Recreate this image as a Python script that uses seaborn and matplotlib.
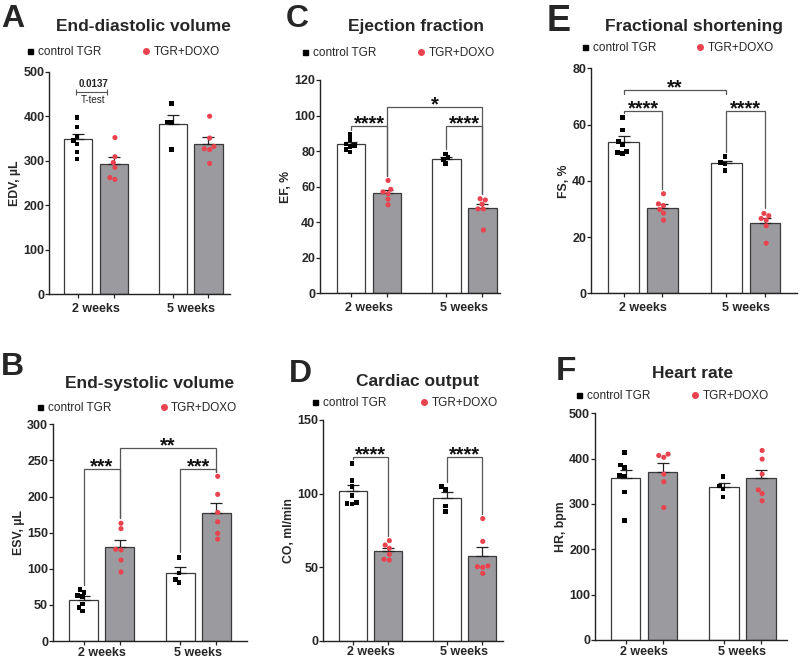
import numpy as np
import pandas as pd
import matplotlib
matplotlib.use("Agg")
import matplotlib.pyplot as plt
import seaborn as sns
from matplotlib.lines import Line2D

sns.set_theme(style="ticks")
plt.rcParams['font.family'] = ['Liberation Sans', 'DejaVu Sans']

# ---------------- data ----------------
timepoints = ["2 weeks", "5 weeks"]
groups = ["control TGR", "TGR+DOXO"]

edv_ctrl_2w = [397, 376, 355, 345, 338, 320, 304]
edv_doxo_2w = [352, 309, 296, 285, 262, 258]
edv_ctrl_5w = [429, 387, 386, 325]
edv_doxo_5w = [400, 351, 332, 327, 325, 294]

esv_ctrl_2w = [71.5, 67.4, 62.8, 61.4, 51.2, 46.2, 41.5]
esv_doxo_2w = [163, 155.5, 127, 126, 112, 95.5]
esv_ctrl_5w = [116, 94, 85, 81]
esv_doxo_5w = [228, 203, 178, 165, 149, 141]

ef_ctrl_2w = [89.5, 86.5, 84, 83, 82.5, 81, 79.5]
ef_doxo_2w = [63.5, 58.5, 57, 56, 53, 49.8]
ef_ctrl_5w = [78.4, 76.3, 75.4, 73]
ef_doxo_5w = [53.2, 52.5, 50.2, 47.4, 47.5, 35.6]

co_ctrl_2w = [120.5, 109, 104.7, 98.6, 94, 93.4, 93]
co_doxo_2w = [68, 65, 62.8, 58.7, 55.3, 54.8]
co_ctrl_5w = [104.7, 102.9, 91.5, 87.7]
co_doxo_5w = [83, 67.5, 50.8, 50.3, 49.9, 45.8]

fs_ctrl_2w = [62.5, 58, 54, 53, 50.5, 50, 49.8]
fs_doxo_2w = [35.4, 31.8, 31.2, 29.8, 28.5, 26]
fs_ctrl_5w = [48.6, 46.5, 46, 43.6]
fs_doxo_5w = [28.4, 27.6, 26.6, 26, 24, 17.8]

hr_ctrl_2w = [414, 386, 381, 363, 362, 326, 263]
hr_doxo_2w = [410, 407, 403, 366, 349, 292]
hr_ctrl_5w = [360, 340, 333, 315]
hr_doxo_5w = [418, 399, 366, 331, 323, 307]

titles = ["End-diastolic volume", "End-systolic volume", "Ejection fraction",
          "Cardiac output", "Fractional shortening", "Heart rate"]
ylabels = ["EDV, µL", "ESV, µL", "EF, %", "CO, ml/min", "FS, %", "HR, bpm"]
letters = ["A", "B", "C", "D", "E", "F"]

# significance annotations: (time_a, group_a, time_b, group_b, level, label, short_legs)
sig_B = [(0, 0, 0, 1, 238, "***", None), (0, 1, 1, 1, 267, "**", None), (1, 0, 1, 1, 238, "***", None)]
sig_C = [(0, 0, 0, 1, 94, "****", None), (0, 1, 1, 1, 105, "*", None), (1, 0, 1, 1, 94, "****", None)]
sig_D = [(0, 0, 0, 1, 125, "****", None), (1, 0, 1, 1, 125, "****", None)]
sig_E = [(0, 0, 1, 0, 72.3, "**", True), (0, 0, 0, 1, 64.8, "****", None), (1, 0, 1, 1, 64.8, "****", None)]

RED = "#e8434f"
GRAY = "#9b9b9f"
LINE = "#555555"


def make_df(c2, d2, c5, d5):
    rows = []
    for t, g, vals in [(timepoints[0], groups[0], c2), (timepoints[0], groups[1], d2),
                       (timepoints[1], groups[0], c5), (timepoints[1], groups[1], d5)]:
        for v in vals:
            rows.append({"time": t, "group": g, "value": v})
    return pd.DataFrame(rows)


panels = [
    dict(df=make_df(edv_ctrl_2w, edv_doxo_2w, edv_ctrl_5w, edv_doxo_5w), ymax=500, step=100,
         rect=(49.3, 71.7, 230, 294.3), xlim=(-0.493, 1.415), sig=[], xpad=6.5,
         title_xy=(143, 26.7), leg_xy=(27, 52), colsp=3.6, letter_xy=(1, 27), letter_fs=23),
    dict(df=make_df(esv_ctrl_2w, esv_doxo_2w, esv_ctrl_5w, esv_doxo_5w), ymax=300, step=50,
         rect=(53, 424.3, 246.7, 641), xlim=(-0.503, 1.5), sig=sig_B, xpad=4.0,
         title_xy=(150, 383.3), leg_xy=(37, 407.7), colsp=4.2, letter_xy=(1, 375), letter_fs=23),
    dict(df=make_df(ef_ctrl_2w, ef_doxo_2w, ef_ctrl_5w, ef_doxo_5w), ymax=120, step=20,
         rect=(320, 80, 500, 293.3), xlim=(-0.514, 1.374), sig=sig_C, xpad=6.5,
         title_xy=(416, 26.7), leg_xy=(302, 53.3), colsp=3.6, letter_xy=(286, 27), letter_fs=23),
    dict(df=make_df(co_ctrl_2w, co_doxo_2w, co_ctrl_5w, co_doxo_5w), ymax=150, step=50,
         rect=(323.3, 420, 503.3, 640.7), xlim=(-0.507, 1.42), sig=sig_D, xpad=4.0,
         title_xy=(417, 381.7), leg_xy=(312, 403.3), colsp=2.95, letter_xy=(289, 382), letter_fs=23),
    dict(df=make_df(fs_ctrl_2w, fs_doxo_2w, fs_ctrl_5w, fs_doxo_5w), ymax=80, step=20,
         rect=(591, 68.3, 797, 293.3), xlim=(-0.506, 1.5), sig=sig_E, xpad=6.5,
         title_xy=(694, 26.7), leg_xy=(582, 48.3), colsp=3.45, letter_xy=(547, 31), letter_fs=26),
    dict(df=make_df(hr_ctrl_2w, hr_doxo_2w, hr_ctrl_5w, hr_doxo_5w), ymax=500, step=100,
         rect=(595, 413.3, 786.7, 640), xlim=(-0.5, 1.45), sig=[], xpad=4.0,
         title_xy=(693, 373.3), leg_xy=(576, 396), colsp=3.55, letter_xy=(556, 380), letter_fs=24),
]

W, H = 800, 660
fig = plt.figure(figsize=(8, 6.6), dpi=100)
fig.patch.set_facecolor("white")

for i, p in enumerate(panels):
    x0, y0, x1, y1 = p["rect"]
    ax = fig.add_axes([x0 / W, 1 - y1 / H, (x1 - x0) / W, (y1 - y0) / H])
    df = p["df"]
    sns.barplot(data=df, x="time", y="value", hue="group", order=timepoints, hue_order=groups,
                palette={groups[0]: "white", groups[1]: GRAY}, errorbar=None,
                width=0.75, gap=0.2, edgecolor="#3a3a3a", linewidth=0.9, ax=ax,
                legend=False, zorder=1)
    # bar centres from the library's patches
    centers = {}
    for patch in ax.patches:
        cx = patch.get_x() + patch.get_width() / 2
        t = int(round(cx))
        g = 0 if cx < t else 1
        centers[(t, g)] = cx
    pts = {}
    for t in range(2):
        for g in range(2):
            vals = df[(df.time == timepoints[t]) & (df.group == groups[g])]["value"].to_numpy()
            pts[(t, g)] = vals
            mean = vals.mean()
            sem = vals.std(ddof=1) / np.sqrt(len(vals))
            ax.errorbar([centers[(t, g)]], [mean], yerr=[[0], [sem]], fmt="none",
                        ecolor="#222222", elinewidth=0.9, capsize=4.5, capthick=0.9, zorder=2)
    for g, marker, color, sz in [(groups[0], "s", "black", 3.3), (groups[1], "o", RED, 3.7)]:
        sns.swarmplot(data=df[df.group == g], x="time", y="value", hue="group",
                      order=timepoints, hue_order=groups, dodge=True, marker=marker,
                      palette={groups[0]: color, groups[1]: color}, size=sz,
                      linewidth=0, ax=ax, legend=False, zorder=3)

    ymax = p["ymax"]
    pad = 0.022 * ymax
    for (ta, ga, tb, gb, lvl, lab, short) in p["sig"]:
        xa, xb = centers[(ta, ga)], centers[(tb, gb)]
        if short:
            ya = yb = lvl - 0.02 * ymax
        else:
            ya = pts[(ta, ga)].max() + pad
            yb = pts[(tb, gb)].max() + pad
        ax.plot([xa, xa, xb, xb], [ya, lvl, lvl, yb], color=LINE, lw=0.9, zorder=4,
                solid_joinstyle="miter")
        ax.annotate(lab, ((xa + xb) / 2, lvl), xytext=(0, 1.5), textcoords="offset points",
                    ha="center", va="center", fontsize=14.5, fontweight="bold", color="#111111")

    if i == 0:
        # small T-test range mark
        ax.errorbar([-0.045], [453.6], xerr=[[0.165], [0.165]], fmt="none", ecolor=LINE,
                    elinewidth=0.8, capsize=2.5, capthick=0.8)
        ax.text(-0.03, 462, "0.0137", ha="center", va="bottom", fontsize=7,
                fontweight="bold", color="#222222")
        ax.text(-0.03, 447, "T-test", ha="center", va="top", fontsize=7, color="#222222")

    ax.set_xlim(*p["xlim"])
    ax.set_ylim(0, ymax)
    ax.set_yticks(np.arange(0, ymax + 0.1, p["step"]))
    ax.set_xticks([0, 1])
    ax.set_xticklabels(timepoints, fontsize=9, fontweight="bold")
    ax.set_xticks(sorted(centers.values()), minor=True)
    ax.tick_params(axis="x", which="major", length=0, pad=p["xpad"])
    ax.tick_params(axis="x", which="minor", length=3.0, width=0.9, color="#222222")
    ax.tick_params(axis="y", which="major", length=2.7, width=0.9, color="#222222",
                   labelsize=9, pad=0.8)
    for lbl in ax.get_yticklabels():
        lbl.set_fontweight("bold")
    ax.set_xlabel("")
    ax.set_ylabel(ylabels[i], fontsize=8.8, fontweight="bold", labelpad=1.5)
    for s in ["top", "right"]:
        ax.spines[s].set_visible(False)
    for s in ["left", "bottom"]:
        ax.spines[s].set_linewidth(1.0)
        ax.spines[s].set_color("#222222")
    ax.set_facecolor("white")

    # legend
    handles = [Line2D([], [], marker="s", color="black", ls="", markersize=3.6),
               Line2D([], [], marker="o", color=RED, ls="", markersize=4.0)]
    lx, ly = p["leg_xy"]
    ax.legend(handles, groups, loc="center left", bbox_to_anchor=(lx / W, 1 - ly / H),
              bbox_transform=fig.transFigure, ncol=2, frameon=False, fontsize=8.5,
              handlelength=0.5, handletextpad=0.4, columnspacing=p["colsp"],
              borderpad=0, borderaxespad=0)

    tx, ty = p["title_xy"]
    fig.text(tx / W, 1 - ty / H, titles[i], ha="center", va="center", fontsize=12.5,
             fontweight="bold")
    lx2, ly2 = p["letter_xy"]
    fig.text(lx2 / W, 1 - ly2 / H, letters[i], ha="left", va="baseline",
             fontsize=p["letter_fs"], fontweight="bold")

fig.savefig("out.png", dpi=100, facecolor="white")
